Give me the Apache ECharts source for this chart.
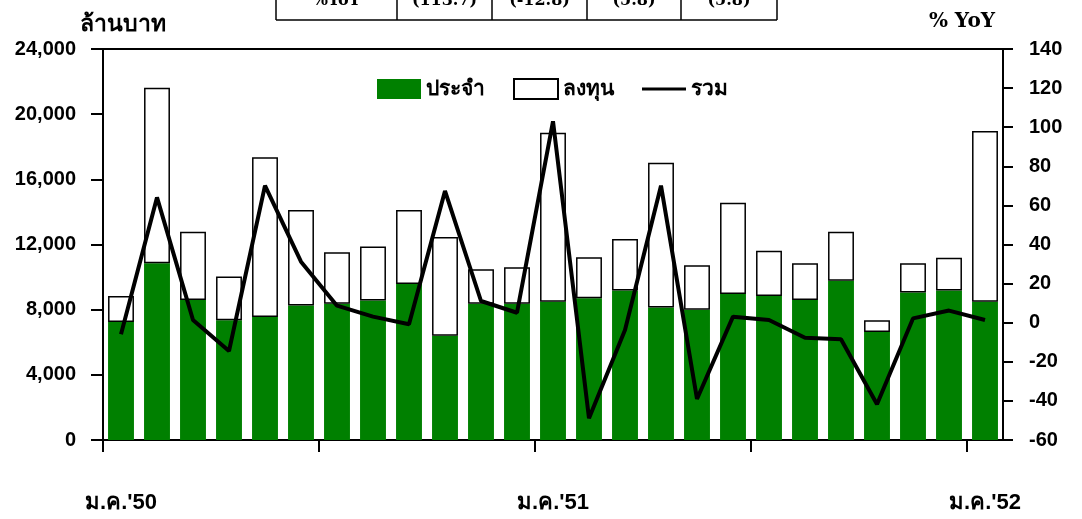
<!DOCTYPE html>
<html>
<head>
<meta charset="utf-8">
<script src="https://cdn.jsdelivr.net/npm/echarts@6/dist/echarts.min.js"></script>
<style>
html,body{margin:0;padding:0;background:#fff;}
#chart{width:1082px;height:519px;}
</style>
</head>
<body>
<div id="chart"></div>
<script>
// ---- data ----
const categories = [
  "ม.ค.'50","ก.พ.'50","มี.ค.'50","เม.ย.'50","พ.ค.'50","มิ.ย.'50","ก.ค.'50","ส.ค.'50","ก.ย.'50","ต.ค.'50","พ.ย.'50","ธ.ค.'50",
  "ม.ค.'51","ก.พ.'51","มี.ค.'51","เม.ย.'51","พ.ค.'51","มิ.ย.'51","ก.ค.'51","ส.ค.'51","ก.ย.'51","ต.ค.'51","พ.ย.'51","ธ.ค.'51",
  "ม.ค.'52"
];
// รายจ่ายประจำ (ล้านบาท)
const regular = [7240, 10850, 8590, 7350, 7550, 8250, 8370, 8570, 9580, 6400, 8370, 8370,
                 8490, 8700, 9170, 8140, 8000, 8960, 8840, 8590, 9780, 6630, 9060, 9170, 8490];
// รวมทั้งหมด (ประจำ + ลงทุน) (ล้านบาท)
const total = [8840, 21620, 12790, 10030, 17350, 14120, 11520, 11870, 14120, 12460, 10480, 10600,
               18860, 11210, 12340, 17020, 10720, 14570, 11620, 10850, 12790, 7350, 10850, 11190, 18970];
// รายจ่ายลงทุน = total - regular
const investment = total.map((t, i) => t - regular[i]);
// รวม %YoY
const totalYoY = [-5.9, 64.1, 1.4, -14.5, 70.1, 31.2, 8.7, 3.1, -0.8, 67.4, 11.1, 5.1,
                  103, -48.9, -3.7, 70.1, -39.0, 3.1, 1.4, -7.7, -8.5, -41.7, 2.2, 6.2, 1.4];
const tableRow = ['%YoY', '(113.7)', '(-12.8)', '(5.8)', '(5.8)'];
const xTickPositions = [0, 6, 12, 18, 24];

// ---- chart ----
const THAI = "'Liberation Sans', 'Noto Sans', 'DejaVu Sans', sans-serif";
const SERIF = "'DejaVu Serif', 'Liberation Serif', serif";
const NUM = "'Liberation Sans', Arial, sans-serif";
const chart = echarts.init(document.getElementById('chart'), null, {renderer: 'canvas'});

const tableEdges = [276, 397, 492, 587, 681, 777];
const graphics = [];
graphics.push({type: 'line', shape: {x1: tableEdges[0], y1: 20, x2: tableEdges[5], y2: 20}, style: {stroke: '#000', lineWidth: 1.5}});
tableEdges.forEach(x => graphics.push({type: 'line', shape: {x1: x, y1: -5, x2: x, y2: 20}, style: {stroke: '#000', lineWidth: 1.5}}));
tableRow.forEach((t, i) => graphics.push({
  type: 'text', x: (tableEdges[i] + tableEdges[i + 1]) / 2, y: 1,
  style: {text: t, font: 'bold 16px ' + SERIF, fill: '#000', align: 'center', verticalAlign: 'middle'}
}));
graphics.push({type: 'text', x: 80, y: 25, style: {text: 'ล้านบาท', font: 'bold 23px ' + THAI, fill: '#000', verticalAlign: 'middle'}});
graphics.push({type: 'text', x: 995, y: 22, style: {text: '% YoY', font: 'bold 20px ' + SERIF, fill: '#000', align: 'right', verticalAlign: 'middle'}});

const option = {
  animation: false,
  backgroundColor: '#fff',
  textStyle: {fontFamily: THAI},
  graphic: graphics,
  grid: {left: 103, right: 79, top: 49, bottom: 79, show: true, borderColor: '#000', borderWidth: 2, backgroundColor: 'transparent'},
  legend: {
    left: 372, top: 73,
    itemWidth: 44, itemHeight: 20, itemGap: 28,
    textStyle: {fontSize: 21, fontWeight: 'bold', color: '#000', fontFamily: THAI},
    data: [
      {name: 'ประจำ', icon: 'rect'},
      {name: 'ลงทุน', icon: 'rect'},
      {name: 'รวม', icon: 'path://M0,0 L44,0 L44,3 L0,3 Z', itemStyle: {color: '#000', borderWidth: 0}}
    ]
  },
  xAxis: [{
    type: 'category',
    data: categories,
    boundaryGap: true,
    axisLine: {lineStyle: {color: '#000', width: 2}},
    axisTick: {show: false},
    axisLabel: {interval: 11, margin: 52, fontSize: 22, fontWeight: 'bold', color: '#000', fontFamily: THAI}
  }, {
    type: 'value',
    position: 'bottom',
    min: 0, max: categories.length,
    axisLine: {show: false, onZero: false},
    axisLabel: {show: false},
    splitLine: {show: false},
    axisTick: {show: true, inside: false, length: 12, customValues: xTickPositions, lineStyle: {color: '#000', width: 2}}
  }],
  yAxis: [{
    type: 'value', min: 0, max: 24000, interval: 4000,
    axisLine: {show: true, lineStyle: {color: '#000', width: 2}},
    axisTick: {show: true, length: 12, lineStyle: {color: '#000', width: 2}},
    splitLine: {show: false},
    axisLabel: {margin: 27, fontSize: 20, fontWeight: 'bold', color: '#000', fontFamily: NUM}
  }, {
    type: 'value', min: -60, max: 140, interval: 20, position: 'right',
    axisLine: {show: true, lineStyle: {color: '#000', width: 2}},
    axisTick: {show: true, length: 10, lineStyle: {color: '#000', width: 2}},
    splitLine: {show: false},
    axisLabel: {margin: 26, fontSize: 20, fontWeight: 'bold', color: '#000', fontFamily: NUM}
  }],
  series: [{
    name: 'ประจำ', type: 'bar', stack: 'exp', barWidth: '72%',
    itemStyle: {color: '#008000'},
    data: regular
  }, {
    name: 'ลงทุน', type: 'bar', stack: 'exp', barWidth: '72%',
    itemStyle: {color: '#fff', borderColor: '#000', borderWidth: 1.5},
    data: investment
  }, {
    name: 'รวม', type: 'line', yAxisIndex: 1,
    symbol: 'none',
    lineStyle: {color: '#000', width: 4},
    itemStyle: {color: '#000'},
    data: totalYoY
  }]
};
chart.setOption(option);
</script>
</body>
</html>
